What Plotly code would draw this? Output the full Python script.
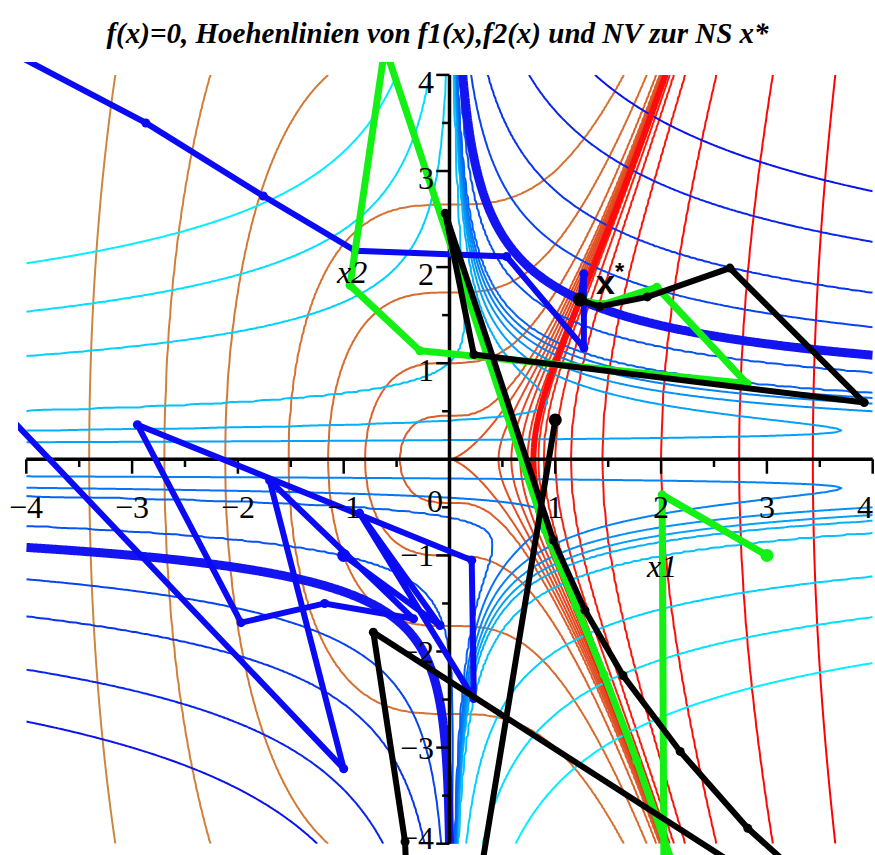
import numpy as np
import plotly.graph_objects as go

# ---- nonlinear system f(x) = 0 ----
def f1(x1, x2):
    return 2.0 * x1**3 - x2**2 - 1.0

def f2(x1, x2):
    return x1 * x2**3 - x2 - 4.0

# contour levels (Hoehenlinien)
f1_levels = [-80, -40, -20, -8, -4, -2, -1.2, -1, -0.8, -0.6, -0.4, -0.2,
             0.2, 0.4, 1, 2, 5, 15, 40, 80]
f2_levels = [-40, -20, -10, -5, -4.4, -4.2, -4, -3.8, -3.6, -3.4, -2,
             5, 15, 40, 80]

# Newton iterates (NV) from three starting points
blue_x1 = [-1.0, -0.09, -0.85, 0.23, 0.21, -2.95, -1.97, -1.18, -0.34, -1.70,
           -1.0, -10.0, -6.6, -4.34, -2.87, -1.76, -0.89, 0.54, 1.27, 1.27, 1.24, 1.234]
blue_x2 = [-1.0, -1.73, -0.56, -2.49, -1.05, 0.36, -1.70, -1.50, -1.66, -0.22,
           -3.22, 7.2, 5.6, 4.35, 3.50, 2.74, 2.17, 2.11, 1.16, 1.93, 1.69, 1.662]

black_x1 = [1.0, -0.27, -0.42, -0.72, 8.6, 5.82, 4.0, 2.82, 2.18, 1.64, 1.28,
            0.98, -0.04, 0.23, 3.92, 2.65, 1.87, 1.42, 1.25, 1.234]
black_x2 = [0.41, -8.09, -3.98, -1.80, -8.39, -6.50, -5.01, -3.84, -3.04, -2.25,
            -1.57, -0.84, 2.56, 1.09, 0.59, 1.99, 1.69, 1.59, 1.65, 1.662]

green_x1 = [3.0, 2.01, 2.11, 2.94, 2.99, 2.58, 2.15, 1.77, 1.46, 1.19, 0.905,
            -0.61, -0.94, -0.28, 2.81, 1.96, 1.45, 1.26, 1.234]
green_x2 = [-1.0, -0.37, -23.8, -12.74, -8.43, -6.01, -4.34, -3.14, -2.24, -1.52,
            -0.74, 4.29, 1.81, 1.13, 0.79, 1.79, 1.61, 1.65, 1.662]

root_x1 = [1.234]
root_x2 = [1.662]

x_ticks = [-4, -3, -2, -1, 1, 2, 3, 4]
y_ticks = [4, 3, 2, 1, -1, -2, -3, -4]

# ---- grid ----
g = np.linspace(-4.0, 4.0, 401)
X1, X2 = np.meshgrid(g, g)
Z1 = f1(X1, X2)
Z2 = f2(X1, X2)


def level_index(z, levels):
    """monotone map so that level k sits at integer k (linear beyond the ends)"""
    lv = np.asarray(levels, dtype=float)
    idx = np.interp(z, lv, np.arange(len(lv), dtype=float))
    lo = z < lv[0]
    hi = z > lv[-1]
    idx[lo] = (z[lo] - lv[0]) / (lv[1] - lv[0])
    idx[hi] = len(lv) - 1 + (z[hi] - lv[-1]) / (lv[-1] - lv[-2])
    return idx.astype(np.float32)


def ramp(c0, c1, n):
    cols = []
    for i in range(n):
        t = i / (n - 1)
        r, gg, b = [round(a + (e - a) * t) for a, e in zip(c0, c1)]
        cols.append(f"rgb({r},{gg},{b})")
    return cols


def scale_of(cols):
    n = len(cols)
    return [[i / (n - 1), c] for i, c in enumerate(cols)]


f1_cols = ramp((205, 135, 60), (255, 0, 0), len(f1_levels))
f2_cols = ramp((0, 240, 255), (10, 20, 235), len(f2_levels))

fig = go.Figure()

for Z, levels, cols in ((Z1, f1_levels, f1_cols), (Z2, f2_levels, f2_cols)):
    n = len(levels)
    fig.add_trace(go.Contour(
        x=g, y=g, z=level_index(Z, levels),
        contours=dict(start=0, end=n - 1, size=1, coloring="lines"),
        colorscale=scale_of(cols), zmin=0, zmax=n - 1,
        line=dict(width=2), showscale=False, hoverinfo="skip"))

# zero level curves f1 = 0 and f2 = 0
for Z, col, w in ((Z1, "rgb(255,10,10)", 6), (Z2, "rgb(20,20,240)", 9)):
    fig.add_trace(go.Contour(
        x=g, y=g, z=Z.astype(np.float32),
        contours=dict(start=0, end=0, size=1, coloring="lines"),
        colorscale=[[0, col], [1, col]],
        line=dict(width=w), showscale=False, hoverinfo="skip"))

# ---- coordinate axes through the origin ----
ax_x, ax_y = [-4, 4, None, 0, 0], [0, 0, None, -4, 4]
tx, ty = [], []
for t in np.arange(-4, 4.01, 0.5):
    if abs(t) < 1e-9:
        continue
    major = abs(t - round(t)) < 1e-9
    tx += [t, t, None]
    ty += [0, -(0.15 if major else 0.08), None]
    tx += [0, -(0.125 if major else 0.07), None]
    ty += [t, t, None]
fig.add_trace(go.Scatter(x=ax_x, y=ax_y, mode="lines",
                         line=dict(color="black", width=3.5), hoverinfo="skip"))
fig.add_trace(go.Scatter(x=tx, y=ty, mode="lines",
                         line=dict(color="black", width=2.5), hoverinfo="skip"))

# ---- Newton paths ----
for xs, ys, col, w in ((blue_x1, blue_x2, "rgb(10,10,245)", 6),
                       (green_x1, green_x2, "rgb(20,240,20)", 7),
                       (black_x1, black_x2, "black", 6)):
    fig.add_trace(go.Scatter(x=xs, y=ys, mode="lines+markers",
                             line=dict(color=col, width=w),
                             marker=dict(color=col, size=9), hoverinfo="skip"))
    fig.add_trace(go.Scatter(x=xs[:1], y=ys[:1], mode="markers",
                             marker=dict(color=col, size=13), hoverinfo="skip"))

fig.add_trace(go.Scatter(x=root_x1, y=root_x2, mode="markers",
                         marker=dict(color="black", size=14), hoverinfo="skip"))

serif = "Liberation Serif, Times New Roman, serif"
ann = []
for k in x_ticks:
    ann.append(dict(x=(3.93 if k == 4 else k), y=-0.5, text=("\u2212" if k < 0 else "") + str(abs(k)),
                    showarrow=False, xanchor="center", yanchor="middle",
                    font=dict(family=serif, size=32, color="black")))
ann.append(dict(x=-0.135, y=-0.43, text="0", showarrow=False, xanchor="center",
                yanchor="middle", font=dict(family=serif, size=32, color="black")))
for k in y_ticks:
    yy = k - 0.07 if k > 0 else (k + 0.06 if k == -4 else k)
    ann.append(dict(x=-0.125, y=yy,
                    text=("\u2212" if k < 0 else "") + str(abs(k)),
                    showarrow=False, xanchor="right", yanchor="middle",
                    font=dict(family=serif, size=32, color="black")))
ann.append(dict(x=2.0, y=-1.11, text="<i>x1</i>", showarrow=False,
                font=dict(family=serif, size=32, color="black")))
ann.append(dict(x=-0.93, y=1.95, text="<i>x2</i>", showarrow=False,
                font=dict(family=serif, size=32, color="black")))
ann.append(dict(x=1.52, y=1.87, text="<b>x<sup>*</sup></b>", showarrow=False,
                font=dict(family="Liberation Sans, Arial, sans-serif", size=34, color="black")))

fig.update_layout(
    width=875, height=855,
    margin=dict(l=18, r=0, t=62, b=0),
    paper_bgcolor="white", plot_bgcolor="white",
    showlegend=False, hovermode=False,
    title=dict(text="<b><i>f(x)=0, Hoehenlinien von f1(x),f2(x) und NV zur NS x*</i></b>",
               x=0.5, xanchor="center", y=1 - 33 / 855, yanchor="middle",
               font=dict(family=serif, size=29, color="black")),
    xaxis=dict(range=[-4.0784, 4.0217], visible=False, fixedrange=True),
    yaxis=dict(range=[-4.1176, 4.1342], visible=False, fixedrange=True),
    annotations=ann,
)

fig.write_html("out.html")
